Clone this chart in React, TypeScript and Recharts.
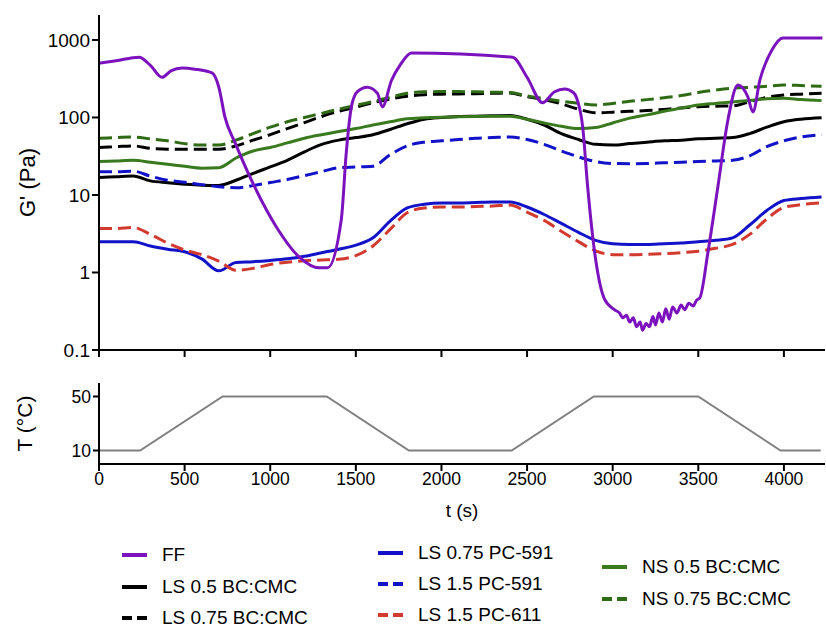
import { LineChart, Line, XAxis, YAxis } from "recharts";

// time grid (s) shared by the slow-moving series
const TIME = [0, 100, 200, 300, 400, 500, 600, 700, 800, 900, 1000, 1100, 1200, 1300, 1400, 1500, 1600, 1700, 1800, 1900, 2000, 2100, 2200, 2300, 2400, 2500, 2600, 2700, 2800, 2900, 3000, 3100, 3200, 3300, 3400, 3500, 3600, 3700, 3800, 3900, 4000, 4100, 4220];

const LS_05_BCCMC = [16.8, 17.2, 17.6, 15.2, 14.4, 13.8, 13.4, 13.3, 15.5, 19, 23, 28, 36, 45, 51, 55, 60, 70, 83, 95, 100, 103, 104, 105, 106, 95, 80, 62, 52, 45, 44, 46, 48, 50, 51, 53, 54, 55, 62, 75, 88, 95, 99];
const LS_075_BCCMC = [41, 42, 43, 40, 39, 39, 39, 39, 43, 51, 60, 72, 86, 103, 120, 136, 155, 173, 188, 197, 200, 201, 203, 205, 207, 185, 170, 150, 128, 115, 117, 120, 123, 127, 133, 138, 140, 141, 160, 182, 195, 200, 205];
const LS_075_PC591 = [2.5, 2.5, 2.5, 2.2, 2.0, 1.85, 1.5, 1.05, 1.35, 1.38, 1.43, 1.5, 1.62, 1.8, 2.0, 2.25, 2.8, 4.6, 6.8, 7.6, 7.9, 7.9, 8.0, 8.1, 8.1, 7.0, 5.6, 4.3, 3.3, 2.6, 2.35, 2.3, 2.3, 2.35, 2.4, 2.5, 2.6, 2.8, 4.1, 6.3, 8.5, 9.0, 9.4];
const LS_15_PC591 = [20, 20, 20.3, 17.5, 15.5, 14.6, 13.6, 12.8, 12.4, 13.2, 14.5, 15.8, 17.8, 20, 22.5, 23, 23.5, 33, 43, 48, 50, 52, 54, 55, 56, 52, 45, 37, 31, 27, 25.5, 25.3, 25.5, 26, 26.5, 27, 27.5, 28, 32, 42, 50, 56, 60];
const LS_15_PC611 = [3.7, 3.7, 3.8, 3.1, 2.4, 1.95, 1.7, 1.4, 1.07, 1.13, 1.27, 1.36, 1.42, 1.45, 1.48, 1.65, 2.2, 3.6, 5.9, 6.8, 7.0, 7.0, 7.1, 7.2, 7.4, 6.0, 4.7, 3.4, 2.5, 1.9, 1.7, 1.7, 1.72, 1.75, 1.8, 1.88, 2.05, 2.3, 3.1, 4.9, 6.9, 7.5, 7.9];
const NS_05_BCCMC = [27, 27.5, 28, 26.5, 25, 23.5, 22.2, 22.5, 30, 37, 41, 47, 54, 60, 66, 72, 80, 88, 96, 99, 101, 102, 103, 104, 104, 95, 85, 77, 72, 74, 85, 98, 108, 120, 132, 145, 152, 158, 166, 174, 177, 170, 165];
const NS_075_BCCMC = [54, 55, 56, 53, 50, 46, 44, 44, 51, 62, 75, 88, 100, 113, 128, 143, 160, 182, 205, 214, 216, 216, 214, 212, 210, 190, 175, 162, 152, 145, 152, 162, 170, 180, 192, 210, 225, 238, 245, 252, 262, 258, 252];

// FF changes fast, so it gets its own time points
const FF_TIME = [0, 100, 234, 300, 368, 420, 485, 560, 660, 700, 736, 795, 910, 1035, 1170, 1285, 1335, 1415, 1444, 1474, 1509, 1567, 1626, 1655, 1708, 1760, 1825, 2415, 2500, 2590, 2661, 2719, 2770, 2789, 2825, 2854, 2895, 2953, 3012, 3040, 3060, 3080, 3100, 3120, 3140, 3160, 3175, 3195, 3215, 3235, 3250, 3270, 3290, 3310, 3330, 3350, 3375, 3400, 3420, 3445, 3470, 3490, 3509, 3556, 3614, 3673, 3731, 3789, 3819, 3860, 3930, 3994, 4225];
const FF_G = [500, 540, 600, 470, 330, 400, 435, 420, 375, 245, 100, 47, 12.6, 3.9, 1.58, 1.15, 1.15, 4.8, 35, 137, 215, 245, 205, 137, 300, 480, 680, 600, 330, 155, 215, 233, 210, 180, 75, 12.6, 1.8, 0.45, 0.33, 0.3, 0.26, 0.28, 0.23, 0.26, 0.2, 0.23, 0.18, 0.22, 0.2, 0.27, 0.21, 0.3, 0.23, 0.34, 0.25, 0.36, 0.3, 0.38, 0.33, 0.4, 0.37, 0.44, 0.47, 1.8, 12.6, 93, 263, 185, 118, 305, 740, 1060, 1060];

const T_TIME = [0, 240, 722, 1330, 1810, 2410, 2890, 3500, 3980, 4215];
const T_VALUE = [10, 10, 50, 50, 10, 10, 50, 50, 10, 10];

const X_TICKS = [0, 500, 1000, 1500, 2000, 2500, 3000, 3500, 4000];
const G_TICKS = [0.1, 1, 10, 100, 1000];
const T_TICKS = [10, 50];

const FONT = "'Liberation Sans', Arial, Helvetica, sans-serif";

const SERIES = [
  { key: "ls05", name: "LS 0.5 BC:CMC", values: LS_05_BCCMC, color: "#000000", dashed: false },
  { key: "ls075", name: "LS 0.75 BC:CMC", values: LS_075_BCCMC, color: "#000000", dashed: true },
  { key: "pc591a", name: "LS 0.75 PC-591", values: LS_075_PC591, color: "#1212C8", dashed: false },
  { key: "pc591b", name: "LS 1.5 PC-591", values: LS_15_PC591, color: "#1212C8", dashed: true },
  { key: "pc611", name: "LS 1.5 PC-611", values: LS_15_PC611, color: "#D23A30", dashed: true },
  { key: "ns05", name: "NS 0.5 BC:CMC", values: NS_05_BCCMC, color: "#3A7A1E", dashed: false },
  { key: "ns075", name: "NS 0.75 BC:CMC", values: NS_075_BCCMC, color: "#2F6A14", dashed: true },
];
const FF_COLOR = "#7B12BE";

const rows = TIME.map((t, i) => {
  const r: Record<string, number> = { t };
  SERIES.forEach((s) => (r[s.key] = s.values[i]));
  return r;
});
const ffRows = FF_TIME.map((t, i) => ({ t, ff: FF_G[i] }));
const tempRows = T_TIME.map((t, i) => ({ t, temp: T_VALUE[i] }));

const axisStyle = { stroke: "#000", strokeWidth: 2 };

function LegendItem({ x, y, textX, color, dashed, label }: { x: number; y: number; textX: number; color: string; dashed: boolean; label: string }) {
  return (
    <>
      <svg width={25} height={6} style={{ position: "absolute", left: x, top: y - 3 }}>
        <line x1={0} y1={3} x2={25} y2={3} stroke={color} strokeWidth={4} strokeDasharray={dashed ? "10 5" : undefined} />
      </svg>
      <div style={{ position: "absolute", left: textX, top: y - 12, height: 24, lineHeight: "24px", fontSize: 19, color: "#000", whiteSpace: "nowrap" }}>
        {label}
      </div>
    </>
  );
}

export default function App() {
  const byKey = (k: string) => SERIES.find((s) => s.key === k)!;
  const legendCols = [
    { icon: 122, text: 162, items: [{ k: "ff", y: 555 }, { k: "ls05", y: 587 }, { k: "ls075", y: 618 }] },
    { icon: 378, text: 418, items: [{ k: "pc591a", y: 553 }, { k: "pc591b", y: 584 }, { k: "pc611", y: 615 }] },
    { icon: 602, text: 642, items: [{ k: "ns05", y: 567 }, { k: "ns075", y: 599 }] },
  ];

  return (
    <div style={{ position: "absolute", left: 0, top: 0, width: 826, height: 630, background: "#fff", fontFamily: FONT, overflow: "hidden" }}>
      <div style={{ position: "absolute", left: 0, top: 0 }}>
        <LineChart width={826} height={365} data={rows} margin={{ top: 15, right: 1, bottom: 0, left: 0 }}>
          <XAxis dataKey="t" type="number" domain={[0, 4240]} ticks={X_TICKS} interval={0} allowDataOverflow
            tickFormatter={() => ""} height={15} tickSize={7} axisLine={axisStyle} tickLine={axisStyle} />
          <YAxis type="number" scale="log" domain={[0.1, 2100]} ticks={G_TICKS} interval={0} allowDataOverflow
            width={99} tickSize={7} axisLine={axisStyle} tickLine={axisStyle}
            tick={{ fill: "#000", fontSize: 19, fontFamily: FONT }}
            label={{ value: "G' (Pa)", angle: -90, position: "insideLeft", offset: 27, style: { textAnchor: "middle", fontSize: 22, fontFamily: FONT, fill: "#000" } }} />
          {SERIES.map((s) => (
            <Line key={s.key} dataKey={s.key} type="monotone" stroke={s.color} strokeWidth={3}
              strokeDasharray={s.dashed ? "13 6" : undefined} dot={false} isAnimationActive={false} />
          ))}
          <Line data={ffRows} dataKey="ff" type="monotone" stroke={FF_COLOR} strokeWidth={3} dot={false} isAnimationActive={false} />
        </LineChart>
      </div>
      <div style={{ position: "absolute", left: 0, top: 373 }}>
        <LineChart width={826} height={160} data={tempRows} margin={{ top: 10, right: 1, bottom: 0, left: 0 }}>
          <XAxis dataKey="t" type="number" domain={[0, 4240]} ticks={X_TICKS} interval={0} allowDataOverflow
            height={69} tickSize={7} axisLine={axisStyle} tickLine={axisStyle}
            tick={{ fill: "#000", fontSize: 17.5, fontFamily: FONT }}
            label={{ value: "t (s)", position: "insideBottom", offset: 16, style: { fontSize: 19, fontFamily: FONT, fill: "#000" } }} />
          <YAxis type="number" domain={[0, 60]} ticks={T_TICKS} interval={0} width={99} tickSize={6}
            axisLine={axisStyle} tickLine={axisStyle}
            tick={{ fill: "#000", fontSize: 17.5, fontFamily: FONT }}
            label={{ value: "T (°C)", angle: -90, position: "insideLeft", offset: 25, style: { textAnchor: "middle", fontSize: 21, fontFamily: FONT, fill: "#000" } }} />
          <Line dataKey="temp" type="linear" stroke="#808080" strokeWidth={2} dot={false} isAnimationActive={false} />
        </LineChart>
      </div>
      {legendCols.map((col) =>
        col.items.map((it) => {
          const s = it.k === "ff" ? { name: "FF", color: FF_COLOR, dashed: false } : byKey(it.k);
          return <LegendItem key={it.k} x={col.icon} y={it.y} textX={col.text} color={s.color} dashed={s.dashed} label={s.name} />;
        })
      )}
    </div>
  );
}
